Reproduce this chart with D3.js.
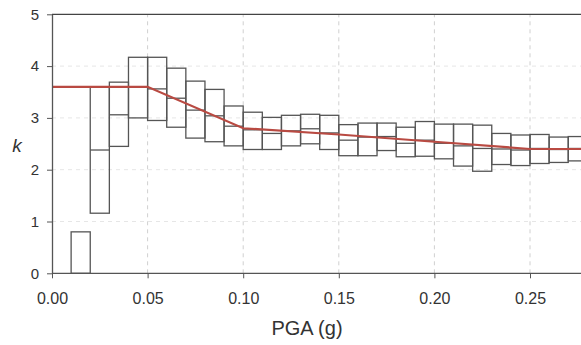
<!DOCTYPE html>
<html><head><meta charset="utf-8">
<script src="https://cdn.jsdelivr.net/npm/d3@7"></script>
<style>body{margin:0;background:#fff}svg{display:block}</style>
</head><body><svg id="c" width="581" height="345"></svg>
<script>
const binStart = [0.01,0.02,0.03,0.04,0.05,0.06,0.07,0.08,0.09,0.10,0.11,0.12,0.13,0.14,0.15,0.16,0.17,0.18,0.19,0.20,0.21,0.22,0.23,0.24,0.25,0.26,0.27];
const boxTop = [0.80,3.60,3.69,4.17,4.17,3.96,3.71,3.55,3.23,3.11,3.01,3.05,3.07,3.05,2.87,2.90,2.90,2.82,2.93,2.88,2.88,2.86,2.70,2.67,2.68,2.63,2.64];
const boxMid = [null,2.38,3.06,3.60,3.56,3.38,3.15,3.04,2.84,2.77,2.70,2.75,2.79,2.71,2.57,2.63,2.64,2.51,2.57,2.51,2.46,2.41,2.40,2.38,2.41,2.39,2.41];
const boxBottom = [0.00,1.16,2.45,3.00,2.95,2.82,2.61,2.54,2.46,2.39,2.39,2.46,2.50,2.39,2.27,2.27,2.37,2.25,2.26,2.21,2.07,1.97,2.10,2.08,2.12,2.14,2.17];
const binWidth = 0.01;
const lineX = [0,0.05,0.10,0.15,0.20,0.25,0.30];
const lineY = [3.60,3.60,2.80,2.68,2.54,2.40,2.40];
const xTicks = [0,0.05,0.10,0.15,0.20,0.25];
const yTicks = [0,1,2,3,4,5];

const svg = d3.select("#c");
const x = d3.scaleLinear().domain([0,0.30]).range([52,625.6]);
const y = d3.scaleLinear().domain([0,5]).range([273.3,14.3]);
const font = "'Liberation Sans', Arial, sans-serif";

// grid
svg.append("g").selectAll("line").data(xTicks.slice(1)).join("line")
  .attr("x1",d=>x(d)).attr("x2",d=>x(d)).attr("y1",y(0)).attr("y2",y(5))
  .attr("stroke","#d0d0d0").attr("stroke-width",1).attr("stroke-dasharray","4,4");
svg.append("g").selectAll("line").data(yTicks.slice(1,5)).join("line")
  .attr("x1",x(0)).attr("x2",581).attr("y1",d=>y(d)).attr("y2",d=>y(d))
  .attr("stroke","#e6e6e6").attr("stroke-width",1).attr("stroke-dasharray","4,4");

// top frame line
svg.append("line").attr("x1",x(0)).attr("x2",581).attr("y1",y(5)).attr("y2",y(5))
  .attr("stroke","#444").attr("stroke-width",1.2);

// boxes
const data = binStart.map((s,i)=>({s,t:boxTop[i],m:boxMid[i],b:boxBottom[i]}));
const g = svg.append("g");
g.selectAll("rect").data(data).join("rect")
  .attr("x",d=>x(d.s)).attr("width",d=>x(d.s+binWidth)-x(d.s))
  .attr("y",d=>y(d.t)).attr("height",d=>y(d.b)-y(d.t))
  .attr("fill","none").attr("stroke","#555").attr("stroke-width",1.3);
g.selectAll("line").data(data.filter(d=>d.m!==null)).join("line")
  .attr("x1",d=>x(d.s)).attr("x2",d=>x(d.s+binWidth))
  .attr("y1",d=>y(d.m)).attr("y2",d=>y(d.m))
  .attr("stroke","#555").attr("stroke-width",1.3);

// red line
svg.append("path").datum(lineX.map((v,i)=>[v,lineY[i]]))
  .attr("d",d3.line().x(d=>x(d[0])).y(d=>y(d[1])))
  .attr("fill","none").attr("stroke","#b94a42").attr("stroke-width",2.2);

// axes
const xa = svg.append("g").attr("transform",`translate(0,${y(0)})`)
  .call(d3.axisBottom(x).tickValues(xTicks).tickFormat(d3.format(".2f")).tickSize(5).tickPadding(14).tickSizeOuter(0));
const ya = svg.append("g").attr("transform",`translate(${x(0)},0)`)
  .call(d3.axisLeft(y).tickValues(yTicks).tickFormat(d3.format("d")).tickSize(5).tickPadding(8).tickSizeOuter(0));
[xa,ya].forEach(a=>{
  a.select(".domain").attr("stroke","#555").attr("stroke-width",1.3);
  a.selectAll(".tick line").attr("stroke","#555");
  a.selectAll("text").attr("font-family",font).attr("font-size",15).attr("fill","#333");
});
xa.selectAll("text").attr("font-size",16);
xa.select(".domain").attr("d",`M${x(0)},0H581`);

svg.append("text").attr("x",307).attr("y",335).attr("text-anchor","middle")
  .attr("font-family",font).attr("font-size",20).attr("fill","#333").text("PGA (g)");
svg.append("text").attr("x",17).attr("y",152).attr("text-anchor","middle")
  .attr("font-family",font).attr("font-size",19).attr("font-style","italic").attr("fill","#333").text("k");
</script></body></html>
